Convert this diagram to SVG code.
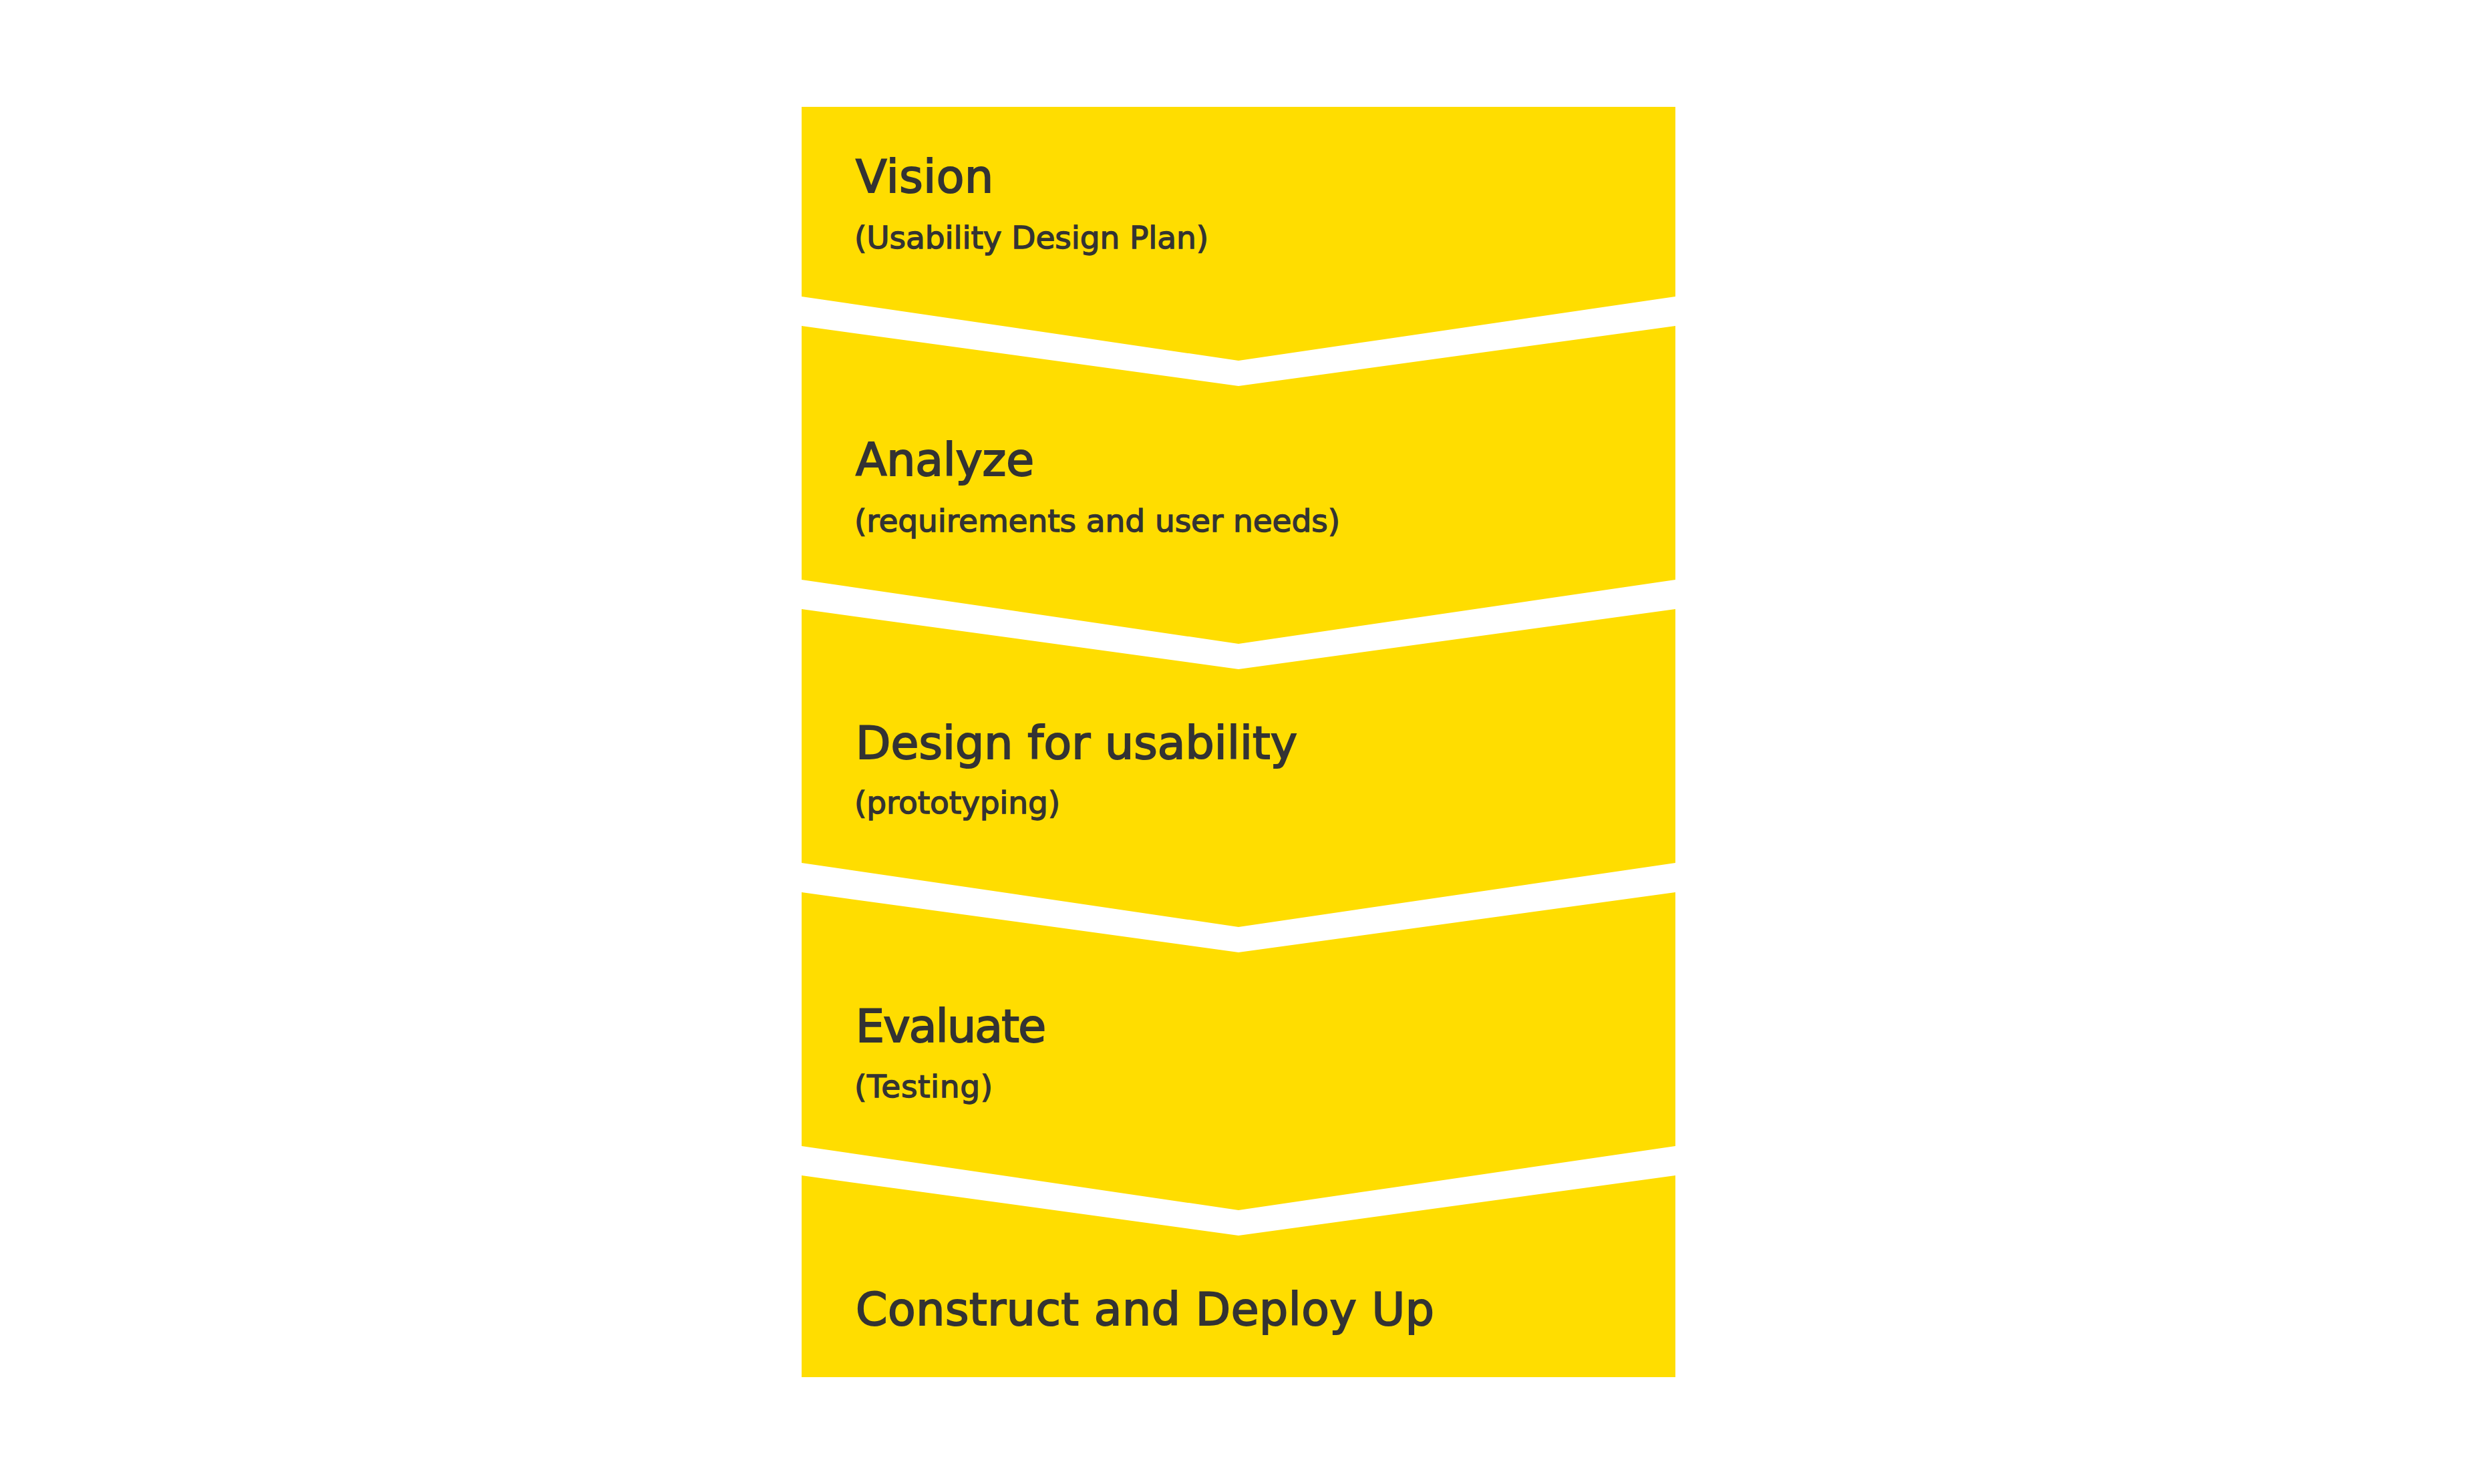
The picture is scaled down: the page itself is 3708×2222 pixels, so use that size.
<svg xmlns="http://www.w3.org/2000/svg" width="3708" height="2222" viewBox="0 0 3708 2222">
<style>
.step{fill:#FFDD00;}
.title{font-family:"DejaVu Sans","Liberation Sans",sans-serif;font-size:68px;fill:#333333;stroke:#333333;stroke-width:2px;}
.sub{font-family:"DejaVu Sans","Liberation Sans",sans-serif;font-size:47px;fill:#333333;stroke:#333333;stroke-width:1.4px;}
</style>
<rect width="3708" height="2222" fill="#FFFFFF"/>
<g id="step-vision">
<polygon class="step" points="1200,160 2508,160 2508,444 1854,540 1200,444"/>
<text class="title" x="1281" y="288" textLength="206">Vision</text>
<text class="sub" x="1279" y="372" textLength="530">(Usability Design Plan)</text>
</g>
<g id="step-analyze">
<polygon class="step" points="1200,488 1854,578 2508,488 2508,868 1854,964 1200,868"/>
<text class="title" x="1281" y="712" textLength="267">Analyze</text>
<text class="sub" x="1279" y="796" textLength="727">(requirements and user needs)</text>
</g>
<g id="step-design">
<polygon class="step" points="1200,912 1854,1002 2508,912 2508,1292 1854,1388 1200,1292"/>
<text class="title" x="1281" y="1136" textLength="661">Design for usability</text>
<text class="sub" x="1279" y="1218" textLength="308">(prototyping)</text>
</g>
<g id="step-evaluate">
<polygon class="step" points="1200,1336 1854,1426 2508,1336 2508,1716 1854,1812 1200,1716"/>
<text class="title" x="1281" y="1560" textLength="285">Evaluate</text>
<text class="sub" x="1279" y="1643" textLength="207">(Testing)</text>
</g>
<g id="step-construct">
<polygon class="step" points="1200,1760 1854,1850 2508,1760 2508,2062 1200,2062"/>
<text class="title" x="1281" y="1984" textLength="866">Construct and Deploy Up</text>
</g>
<g id="connectors"></g>
</svg>
